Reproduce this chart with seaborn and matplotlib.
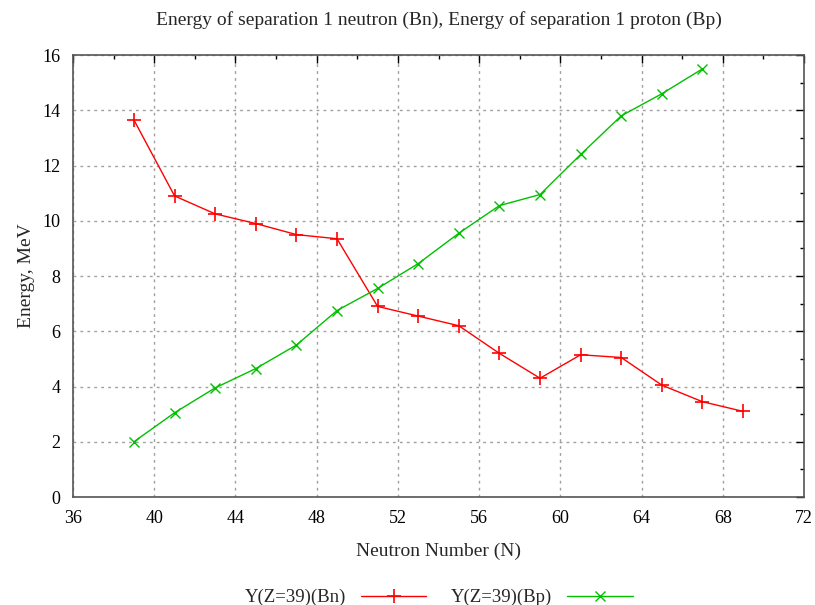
import matplotlib
matplotlib.use("Agg")
import matplotlib.pyplot as plt
import numpy as np
import pandas as pd
import seaborn as sns
from matplotlib.ticker import MultipleLocator

neutrons_bn = [39, 41, 43, 45, 47, 49, 51, 53, 55, 57, 59, 61, 63, 65, 67, 69]
energy_bn = [13.65, 10.9, 10.25, 9.9, 9.5, 9.35, 6.9, 6.55, 6.2, 5.2, 4.3, 5.15, 5.05, 4.05, 3.45, 3.1]

neutrons_bp = [39, 41, 43, 45, 47, 49, 51, 53, 55, 57, 59, 61, 63, 65, 67]
energy_bp = [2.0, 3.05, 3.95, 4.65, 5.5, 6.75, 7.55, 8.45, 9.55, 10.55, 10.95, 12.4, 13.8, 14.6, 15.5]

label_bn = "Y(Z=39)(Bn)"
label_bp = "Y(Z=39)(Bp)"

sns.set_style("white")
plt.rcParams["font.family"] = ["Liberation Serif", "DejaVu Serif"]

fig = plt.figure(figsize=(8.15, 6.05), dpi=100)
ax = fig.add_axes([0.0896, 0.1785, 0.8969, 0.7305])

df_bn = pd.DataFrame({"N": neutrons_bn, "E": energy_bn})
df_bp = pd.DataFrame({"N": neutrons_bp, "E": energy_bp})

sns.lineplot(data=df_bn, x="N", y="E", ax=ax, color="#ff0000", marker="+",
             markersize=10, markeredgewidth=1.2, markeredgecolor="#ff0000",
             linewidth=1.0, label=label_bn)
sns.lineplot(data=df_bp, x="N", y="E", ax=ax, color="#00c000", marker="x",
             markersize=7, markeredgewidth=1.0, markeredgecolor="#00c000",
             linewidth=1.0, label=label_bp)

ax.set_xlim(36, 72)
ax.set_ylim(0, 16)
ax.xaxis.set_major_locator(MultipleLocator(4))
ax.xaxis.set_minor_locator(MultipleLocator(2))
ax.yaxis.set_major_locator(MultipleLocator(2))
ax.yaxis.set_minor_locator(MultipleLocator(1))
ax.tick_params(which="both", direction="in", top=True, right=True, colors="black",
               labelsize=13)
ax.tick_params(which="major", length=6, width=1.0, pad=9)
ax.tick_params(which="minor", length=3, width=1.0)
ax.grid(True, which="major", linestyle=(0, (2, 3)), color="#a0a0a0", linewidth=1.0)
for s in ax.spines.values():
    s.set_color("#555555")
    s.set_linewidth(1.2)

ax.set_xlabel("Neutron Number (N)", fontsize=14, labelpad=12)
ax.set_ylabel("Energy, MeV", fontsize=14)
ax.set_title("Energy of separation 1 neutron (Bn), Energy of separation 1 proton (Bp)",
             fontsize=14, pad=22)
ax.yaxis.set_label_coords(-0.052, 0.5)

handles, labels = ax.get_legend_handles_labels()
ax.legend(handles, labels, loc="center", bbox_to_anchor=(0.5, -0.228), ncol=2,
          frameon=False, markerfirst=False, fontsize=13.5, handlelength=3.5,
          columnspacing=1.3, borderpad=0.1)

fig.savefig("out.png", dpi=100)
